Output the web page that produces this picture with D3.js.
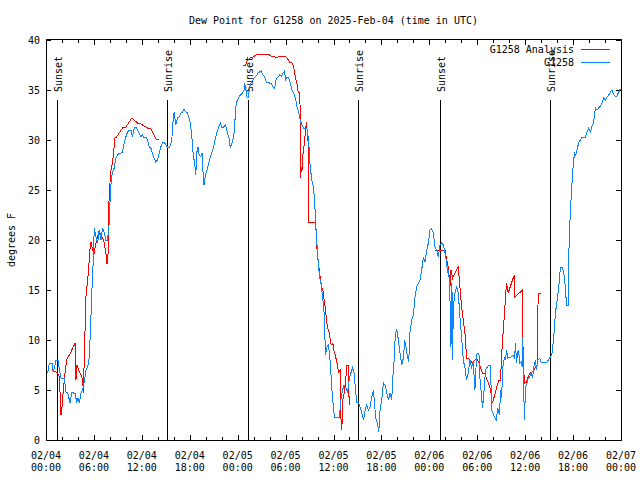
<!DOCTYPE html>
<html><head><meta charset="utf-8">
<script src="https://cdn.jsdelivr.net/npm/d3@7/dist/d3.min.js"></script>
<style>
body{margin:0;background:#fff}
svg{display:block}
text{font-family:"DejaVu Sans Mono","Liberation Mono",monospace;font-size:10px;fill:#000}
</style>
</head><body><svg id="c" width="640" height="480"></svg>
<script>
const chartTitle = "Dew Point for G1258 on 2025-Feb-04 (time in UTC)";
const yAxisLabel = "degrees F";
const seriesNames = ["G1258 Analysis", "G1258"];
const seriesColors = ["#ff0000", "#0a84ff"];
const xTickHours = [0, 6, 12, 18, 24, 30, 36, 42, 48, 54, 60, 66, 72];
const xTickDates = ["02/04","02/04","02/04","02/04","02/05","02/05","02/05","02/05","02/06","02/06","02/06","02/06","02/07"];
const xTickTimes = ["00:00","06:00","12:00","18:00","00:00","06:00","12:00","18:00","00:00","06:00","12:00","18:00","00:00"];
const xMinorHours = d3.range(0, 73, 2);
const yTickValues = [0, 5, 10, 15, 20, 25, 30, 35, 40];
const eventHours = [1.33, 15.2, 25.33, 39.1, 49.3, 63.05];
const eventNames = ["Sunset", "Sunrise", "Sunset", "Sunrise", "Sunset", "Sunrise"];

// Observed dew point (hours after 02/04 00:00 UTC, degrees F)
const obsReadings = [
[0.21,6.7],[0.42,7.7],[0.75,7.7],[0.92,6.8],[1.04,7.2],[1.25,8.0],[1.54,8.0],[1.67,7.0],[1.88,6.2],[2.29,6.2],[2.5,4.8],[2.71,4.8],[3.0,3.7],[3.25,4.8],[3.46,4.7],[3.67,4.7],[3.83,3.7],[4.0,4.2],[4.17,3.7],[4.38,4.7],[4.58,5.0],[4.79,5.8],[5.0,7.0],[5.21,7.3],[5.42,8.3],[5.63,12.3],[5.75,15],[5.92,18],[6.04,21.2],[6.25,20.3],[6.46,19.7],[6.67,21],[6.88,20],[7.08,21.2],[7.29,20.7],[7.5,20],[7.71,20],[7.92,21.7],[8.04,24.3],[8.17,26],[8.33,26.8],[8.54,27.2],[8.75,28.2],[8.96,28.5],[9.17,28.7],[9.38,28.7],[9.58,28.8],[9.79,29.7],[10.0,30.3],[10.21,30.8],[10.42,31],[10.63,31],[10.83,30.3],[11.04,31.2],[11.25,31.3],[11.46,31],[11.67,30.7],[11.88,30.3],[12.08,30.5],[12.29,30.2],[12.5,30.3],[12.71,30],[12.92,29.3],[13.13,29.2],[13.33,28.7],[13.54,28.2],[13.75,27.8],[13.96,28],[14.17,28.7],[14.38,29.3],[14.58,29.7],[14.79,29.8],[15.0,29.5],[15.21,29.3],[15.5,29.3],[15.75,30],[15.92,32],[16.04,32.8],[16.25,31.5],[16.46,32.2],[16.67,32.3],[16.88,32.7],[17.08,32.8],[17.29,33.1],[17.5,32.8],[17.71,32.7],[17.92,32.2],
[18.0,32.0],[18.21,30.8],[18.42,28.7],[18.63,27.5],[18.75,26.5],[18.92,29],[19.04,29.3],[19.17,28.5],[19.38,28.3],[19.54,28.7],[19.67,26.7],[19.79,25.5],[19.96,26.5],[20.17,27],[20.38,27.7],[20.58,28.3],[20.79,28.8],[21.0,29.3],[21.21,30.2],[21.42,30.8],[21.63,31.3],[21.83,31.7],[22.04,31.2],[22.25,31.3],[22.5,31.5],[22.71,30.7],[22.92,30.2],[23.08,29.2],[23.29,29.7],[23.5,30.3],[23.63,31.5],[23.75,33.2],[23.96,34],[24.25,34.4],[24.58,34.7],[24.79,35],[24.88,35.7],[25.0,35.2],[25.17,34.3],[25.33,34.3],[25.5,35.3],[25.71,35.8],[25.92,36],[26.13,36.3],[26.33,36.4],[26.54,36.7],[26.75,36.8],[26.96,36.9],[27.17,36.5],[27.38,36.3],[27.58,35.8],[27.79,35.8],[28.0,35.7],[28.21,35.7],[28.42,35.3],[28.63,35.2],[28.83,36.1],[29.04,36.3],[29.25,36.5],[29.46,36.4],[29.67,36.7],[29.88,36.9],[30.0,36],[30.17,36.3],[30.38,36.2],[30.58,35.7],[30.79,35],[31.0,34.7],[31.25,34.2],[31.42,33.3],[31.63,32.8],[31.83,32],[32.04,31.5],[32.25,31.2],[32.46,31.1],[32.67,31.2],[32.88,30],[33.08,27.3],[33.29,26],[33.5,25.3],[33.67,23.3],[33.83,20.8],[34.0,18.7],[34.17,17],[34.33,16],[34.5,15.3],[34.67,14],[34.83,12.7],[35.0,8.5],[35.17,9.3],[35.33,9.5],[35.5,8.7],[35.67,6.7],[35.83,4.7],[36.04,2.8],
[36.13,2.3],[36.33,2.2],[36.54,2.3],[36.75,2.3],[36.92,4.0],[37.13,5.0],[37.33,5.5],[37.54,5.3],[37.75,4.7],[37.96,6.0],[38.17,6.7],[38.38,7.2],[38.58,6.7],[38.75,5.0],[38.92,3.8],[39.13,3.8],[39.33,3.3],[39.54,2.7],[39.75,2.0],[39.96,3.0],[40.17,3.5],[40.38,3.0],[40.58,3.3],[40.79,4.3],[41.0,5.0],[41.13,3.7],[41.29,2.2],[41.5,1.7],[41.67,0.8],[41.83,3.0],[42.04,4.0],[42.25,5.7],[42.46,5.5],[42.67,4.7],[42.88,4.0],[43.08,4.7],[43.29,4.0],[43.42,6.2],[43.58,7.8],[43.75,10.7],[43.92,11],[44.13,10],[44.33,8.7],[44.54,7.5],[44.75,8.2],[44.92,10],[45.08,9.3],[45.25,8.3],[45.42,7.8],[45.58,10.8],[45.79,12],[46.0,12.5],[46.21,14.3],[46.42,15.3],[46.63,15.7],[46.83,16],[47.04,17],[47.25,18.2],[47.46,17.8],[47.67,19],[47.88,19.7],[48.08,21],[48.29,21.1],[48.5,20.7],[48.71,19.3],[48.92,19],[49.13,18.3],[49.33,19.5],[49.54,19.7],[49.75,19.5],[49.96,18.7],[50.17,17.7],[50.29,16.7],[50.42,17],[50.58,14.3],[50.71,9.3],[50.83,15.7],[50.92,8],[51.0,13.3],[51.21,14.7],[51.42,15.3],[51.63,14.7],[51.83,12.3],[52.04,10.3],[52.25,8],[52.46,7.2],[52.67,6],[52.88,6.7],[53.08,8],[53.29,7.3],[53.5,7.8],[53.71,5],[53.92,8.5],
[54.0,8.7],[54.21,8.7],[54.33,6.3],[54.5,4.7],[54.67,3.2],[54.83,4.7],[55.04,7.0],[55.25,7.3],[55.46,7.5],[55.67,7.5],[55.79,3.0],[55.96,2.7],[56.17,2.3],[56.38,2.0],[56.58,3.2],[56.79,2.5],[56.92,5.0],[57.04,4.2],[57.21,7.3],[57.42,8.3],[57.54,8.0],[57.67,9.0],[57.83,8.2],[58.04,8.3],[58.25,8.3],[58.46,8.5],[58.67,8.2],[58.79,9.7],[58.92,7.7],[59.04,8.7],[59.17,9.0],[59.33,7.7],[59.5,7.8],[59.63,7.3],[59.71,10.3],[59.79,5.7],[59.92,2.0],[60.04,5.3],[60.25,5.7],[60.38,6.2],[60.54,6.3],[60.75,6.7],[60.92,6.2],[61.08,7.3],[61.29,8.0],[61.42,7.0],[61.58,8.0],[61.83,8.2],[62.0,7.8],[62.33,7.8],[62.75,7.8],[62.96,8.1],[63.17,8.3],[63.38,8.7],[63.58,10.3],[63.79,12.7],[64.0,14],[64.21,15.3],[64.42,17.3],[64.63,17.3],[64.83,16.7],[65.04,15.3],[65.17,13.5],[65.38,13.5],[65.5,19.7],[65.67,23],[65.83,25.3],[66.0,27.3],[66.17,28.7],[66.33,28.5],[66.5,29],[66.71,29.8],[66.92,30],[67.13,30.3],[67.33,30.3],[67.54,30.3],[67.75,30.8],[67.96,31.2],[68.17,30.8],[68.38,31.4],[68.58,31.8],[68.79,33.2],[69.0,33],[69.21,33.2],[69.42,33.4],[69.63,33.7],[69.83,34.2],[70.04,34],[70.25,34.3],[70.46,34.5],[70.67,34.8],[70.88,35],[71.08,34.5],[71.29,34.4],[71.5,34.4],[71.71,34.8],[71.92,35.1]
];

// Analysis dew point (null = gap)
const anaReadings = [
[0.83,7.0],[1.25,6.8],[1.46,6.7],[1.67,6.3],[1.88,2.5],[2.0,3.2],[2.17,5.0],[2.38,6.7],[2.58,8.0],[2.71,8.2],[2.92,8.5],[3.13,8.8],[3.33,9.2],[3.54,9.5],[3.67,9.7],[3.75,6.0],[3.88,7.5],[4.0,7.2],[4.17,6.8],[4.38,6.5],[4.58,6.0],[4.71,4.7],[4.79,8.8],[4.92,11.7],[5.0,14.3],[5.21,16],[5.33,17],[5.5,19],[5.63,19.8],[5.83,19],[6.04,18.7],[6.25,19.7],[6.46,20.3],[6.67,21],[6.88,20.3],[7.08,20.2],[7.29,19.7],[7.5,18.7],[7.63,17.7],[7.75,17.7],[7.83,22.3],[7.92,24.7],[8.13,27],[8.33,27.7],[8.46,28.7],[8.63,30.2],[8.83,30.3],[9.17,30.7],[9.58,31.2],[10.0,31.3],[10.42,31.8],[10.75,32.2],[11.04,32],[11.46,31.7],[11.88,31.6],[12.29,31.4],[12.71,31.2],[13.13,31.1],[13.42,30.7],[13.75,30.1],[14.17,30.0],[14.2,null],
[24.67,37.5],[25.0,37.5],[25.17,37.9],[25.5,38.2],[25.92,38.3],[26.33,38.5],[26.75,38.6],[27.79,38.6],[28.21,38.4],[28.63,38.3],[29.04,38.3],[29.46,38.4],[29.88,38.4],[30.17,38.2],[30.5,37.8],[30.83,37.7],[31.04,37.2],[31.21,36.3],[31.42,35.7],[31.58,34.8],[31.79,34.7],[31.83,32.0],[31.88,26.2],[31.96,27.3],[32.04,26.8],[32.17,28.5],[32.29,29.3],[32.42,30.3],[32.5,31.0],[32.63,31.8],[32.75,30.3],[32.83,29.7],[32.92,21.8],[33.21,21.8],[33.71,21.7],[33.83,20.9],[33.96,18.7],[34.17,17.3],[34.33,16.3],[34.5,15.3],[34.67,15.0],[34.83,14.0],[35.0,13.0],[35.17,11.7],[35.33,11.0],[35.5,10.7],[35.63,9.7],[35.79,9.5],[35.92,9.7],[36.04,9.0],[36.21,8.5],[36.42,7.8],[36.63,6.8],[36.83,7.0],[36.92,2.3],[37.04,1.0],[37.17,4.0],[37.33,4.7],[37.5,5.7],[37.67,7.5],[37.88,7.5],[37.96,3.5],[38.0,null],
[48.71,19.0],[49.96,19.0],[50.17,18.0],[50.38,17.3],[50.58,15.3],[50.71,17.0],[50.92,16.2],[51.21,16.7],[51.42,17.0],[51.63,17.3],[51.83,15.3],[52.04,13.3],[52.25,12.0],[52.46,10.7],[52.67,8.2],[52.88,8.2],[53.08,8.0],[53.29,7.8],[53.5,7.8],[53.71,8.0],[53.92,8.2],[54.21,7.7],[54.42,7.2],[54.63,6.7],[54.92,6.7],[55.13,6.2],[55.38,5.7],[55.67,5.0],[55.88,3.7],[56.08,4.2],[56.29,4.8],[56.5,5.5],[56.71,6.0],[56.92,6.0],[57.04,8.3],[57.17,10],[57.33,11.7],[57.46,13.3],[57.58,14.7],[57.67,15.7],[57.88,14.7],[58.08,15.2],[58.29,15.7],[58.5,16.2],[58.67,16.5],[58.71,14.3],[59.0,14.5],[59.21,14.7],[59.42,14.8],[59.67,15.0],[59.71,10.0],[59.79,7.3],[59.92,5.7],[60.17,5.8],[60.38,6.3],[60.58,6.7],[60.88,6.8],[61.08,7.0],[61.29,7.3],[61.5,7.5],[61.63,14.7],[61.92,14.7]
];

const svg = d3.select("#c");
const L = 46, R = 621, T = 40, B = 440;
const x = d3.scaleLinear().domain([0, 72]).range([L, R]);
const y = d3.scaleLinear().domain([0, 40]).range([B, T]);

// title
svg.append("text").attr("x", (L + R) / 2).attr("y", 23.5).attr("text-anchor", "middle").text(chartTitle);
// y label
svg.append("text").attr("transform", `translate(14.5,${(T + B) / 2}) rotate(-90)`).attr("text-anchor", "middle").text(yAxisLabel);

// axes (inward ticks)
function styleAxis(g) {
  g.select(".domain").remove();
  g.selectAll("line").attr("stroke", "#000").attr("shape-rendering", "crispEdges");
  g.selectAll("text").attr("font-family", null).attr("font-size", null);
}
svg.append("g").attr("transform", `translate(0,${B})`)
  .call(d3.axisBottom(x).tickValues(xMinorHours).tickSize(-3).tickFormat("")).call(styleAxis);
svg.append("g").attr("transform", `translate(0,${B})`)
  .call(d3.axisBottom(x).tickValues(xTickHours).tickSize(-5).tickFormat("")).call(styleAxis);
svg.append("g").attr("transform", `translate(0,${T})`)
  .call(d3.axisTop(x).tickValues(xMinorHours).tickSize(-3).tickFormat("")).call(styleAxis);
svg.append("g").attr("transform", `translate(0,${T})`)
  .call(d3.axisTop(x).tickValues(xTickHours).tickSize(-5).tickFormat("")).call(styleAxis);
svg.append("g").attr("transform", `translate(${L},0)`)
  .call(d3.axisLeft(y).tickValues(yTickValues).tickSize(-5).tickPadding(6).tickFormat(d3.format("d"))).call(styleAxis);
svg.append("g").attr("transform", `translate(${R},0)`)
  .call(d3.axisRight(y).tickValues(yTickValues).tickSize(-5).tickFormat("")).call(styleAxis);

// x tick labels (two lines)
const xl = svg.append("g");
xTickHours.forEach((h, i) => {
  const t = xl.append("text").attr("x", x(h)).attr("text-anchor", "middle");
  t.append("tspan").attr("x", x(h)).attr("y", 458.5).text(xTickDates[i]);
  t.append("tspan").attr("x", x(h)).attr("y", 470.5).text(xTickTimes[i]);
});

// sunrise/sunset markers
eventHours.forEach((h, i) => {
  const xx = Math.round(x(h)) + 0.5;
  svg.append("line").attr("x1", xx).attr("x2", xx).attr("y1", 99.5).attr("y2", B)
    .attr("stroke", "#000").attr("stroke-width", 1).attr("shape-rendering", "crispEdges");
  svg.append("text").attr("transform", `translate(${xx + 4},92) rotate(-90)`).text(eventNames[i]);
});

// series
const line = d3.line().defined(d => d[1] !== null).x(d => x(d[0])).y(d => y(d[1]));
svg.append("path").datum(anaReadings).attr("d", line).attr("fill", "none")
  .attr("stroke", seriesColors[0]).attr("stroke-width", 1).attr("shape-rendering", "crispEdges");
svg.append("path").datum(obsReadings).attr("d", line).attr("fill", "none")
  .attr("stroke", seriesColors[1]).attr("stroke-width", 1).attr("shape-rendering", "crispEdges");

// frame
svg.append("rect").attr("x", L + 0.5).attr("y", T - 0.5).attr("width", R - L).attr("height", B - T + 0.5)
  .attr("fill", "none").attr("stroke", "#000").attr("shape-rendering", "crispEdges");

// legend
const legY = [49.5, 62.5];
seriesNames.forEach((n, i) => {
  svg.append("text").attr("x", 574).attr("y", legY[i] + 3.8).attr("text-anchor", "end").text(n);
  svg.append("line").attr("x1", 581).attr("x2", 610).attr("y1", legY[i]).attr("y2", legY[i])
    .attr("stroke", seriesColors[i]).attr("stroke-width", 1).attr("shape-rendering", "crispEdges");
});
</script>
</body></html>
